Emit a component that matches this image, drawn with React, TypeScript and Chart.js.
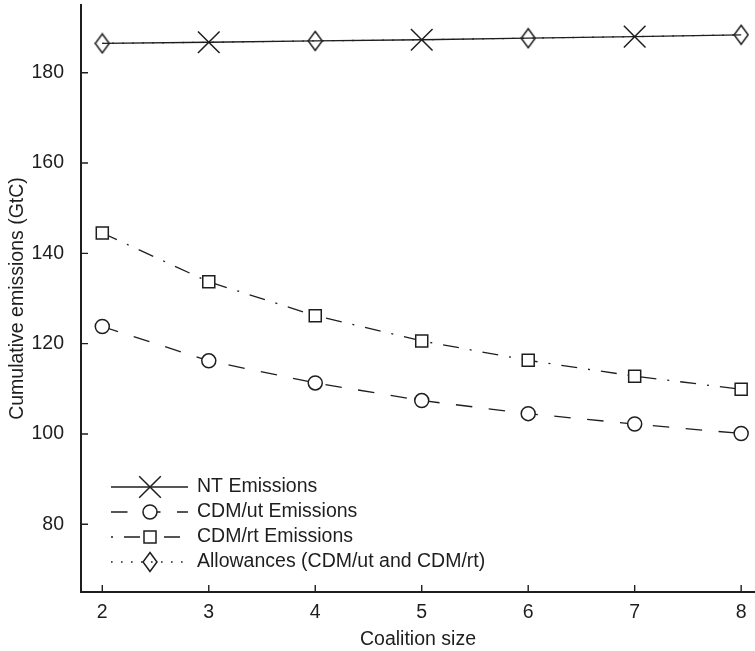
import React, { useEffect, useRef } from 'react';
import { Chart, registerables } from 'chart.js';

Chart.register(...registerables);

// ---- data ----
const coalitionSizes = [2, 3, 4, 5, 6, 7, 8];
const ntEmissions = [186.5, 186.75, 187.05, 187.3, 187.65, 188.0, 188.4];
const cdmUtEmissions = [123.8, 116.2, 111.3, 107.4, 104.5, 102.2, 100.1];
const cdmRtEmissions = [144.5, 133.7, 126.2, 120.6, 116.3, 112.8, 109.9];
const allowances = [186.5, 186.75, 187.05, 187.3, 187.65, 188.0, 188.4];
const xTickValues = [2, 3, 4, 5, 6, 7, 8];
const yTickValues = [80, 100, 120, 140, 160, 180];
const seriesNames = [
  'NT Emissions',
  'CDM/ut Emissions',
  'CDM/rt Emissions',
  'Allowances (CDM/ut and CDM/rt)',
];
const xTitle = 'Coalition size';
const yTitle = 'Cumulative emissions (GtC)';

// ---- styles ----
const INK = '#1e1e1e';
const FONT_FAMILY = '"Liberation Sans", Arial, Helvetica, sans-serif';
const FONT_SIZE = 19.5;

function makeDiamond(): HTMLCanvasElement {
  const c = document.createElement('canvas');
  c.width = 16;
  c.height = 22;
  const g = c.getContext('2d')!;
  g.strokeStyle = INK;
  g.lineWidth = 1.5;
  g.beginPath();
  g.moveTo(8, 1.5);
  g.lineTo(15, 11);
  g.lineTo(8, 20.5);
  g.lineTo(1, 11);
  g.closePath();
  g.stroke();
  return c;
}

function drawMarker(ctx: CanvasRenderingContext2D, kind: string, x: number, y: number, diamond: HTMLCanvasElement) {
  ctx.beginPath();
  ctx.fillStyle = '#ffffff';
  if (kind === 'x') {
    const h = 10.8;
    ctx.moveTo(x - h, y - h);
    ctx.lineTo(x + h, y + h);
    ctx.moveTo(x + h, y - h);
    ctx.lineTo(x - h, y + h);
    ctx.stroke();
  } else if (kind === 'circle') {
    ctx.arc(x, y, 7, 0, Math.PI * 2);
    ctx.fill();
    ctx.stroke();
  } else if (kind === 'square') {
    ctx.rect(x - 6, y - 6, 12, 12);
    ctx.fill();
    ctx.stroke();
  } else if (kind === 'diamond') {
    ctx.drawImage(diamond, x - diamond.width / 2, y - diamond.height / 2);
  }
}

export default function App() {
  const canvasRef = useRef<HTMLCanvasElement | null>(null);

  useEffect(() => {
    document.body.style.margin = '0';
    const canvas = canvasRef.current;
    if (!canvas) return;
    const diamond = makeDiamond();
    const pts = (ys: number[]) => coalitionSizes.map((x, i) => ({ x, y: ys[i] }));

    const legendKinds = ['x', 'circle', 'square', 'diamond'];
    const legendDashes: number[][] = [[], [16.5, 16.5], [2, 11, 16, 11], [1.6, 8.4]];

    const legendPlugin = {
      id: 'matlabLegend',
      afterDraw(chart: any) {
        const { ctx, chartArea } = chart;
        const x0 = chartArea.left + 30;
        const x1 = chartArea.left + 107;
        const xm = chartArea.left + 69;
        const xt = chartArea.left + 116;
        const rowGap = 25;
        const yLast = chartArea.bottom - 30;
        const n = seriesNames.length;
        seriesNames.forEach((name, i) => {
          const y = yLast - (n - 1 - i) * rowGap;
          ctx.save();
          ctx.strokeStyle = INK;
          ctx.lineWidth = 1.3;
          ctx.setLineDash(legendDashes[i]);
          ctx.beginPath();
          ctx.moveTo(x0, y);
          ctx.lineTo(x1, y);
          ctx.stroke();
          ctx.setLineDash([]);
          ctx.lineWidth = 1.5;
          drawMarker(ctx, legendKinds[i], xm, y, diamond);
          ctx.fillStyle = INK;
          ctx.font = `${FONT_SIZE}px ${FONT_FAMILY}`;
          ctx.textBaseline = 'middle';
          ctx.textAlign = 'left';
          ctx.fillText(name, xt, y);
          ctx.restore();
        });
      },
    };

    const inwardTicks = {
      id: 'inwardTicks',
      afterDraw(chart: any) {
        const { ctx, chartArea, scales } = chart;
        ctx.save();
        ctx.strokeStyle = INK;
        ctx.lineWidth = 1.4;
        ctx.beginPath();
        xTickValues.forEach((v) => {
          const px = scales.x.getPixelForValue(v);
          ctx.moveTo(px, chartArea.bottom);
          ctx.lineTo(px, chartArea.bottom - 7);
        });
        yTickValues.forEach((v) => {
          const py = scales.y.getPixelForValue(v);
          ctx.moveTo(chartArea.left, py);
          ctx.lineTo(chartArea.left + 7, py);
        });
        ctx.stroke();
        ctx.restore();
      },
    };

    const common = {
      borderColor: INK,
      borderWidth: 1.3,
      pointBorderColor: INK,
      pointBackgroundColor: '#ffffff',
      pointBorderWidth: 1.5,
      pointHoverRadius: 0,
      tension: 0,
      fill: false,
      clip: false,
    };

    const chart = new Chart(canvas, {
      type: 'line',
      data: {
        datasets: [
          {
            ...common,
            label: seriesNames[0],
            data: pts(ntEmissions),
            pointStyle: 'crossRot',
            pointRadius: (c: any) => (c.dataIndex % 2 === 1 ? 15.3 : 0),
          },
          {
            ...common,
            label: seriesNames[1],
            data: pts(cdmUtEmissions),
            borderDash: [16.5, 16.5],
            pointStyle: 'circle',
            pointRadius: 7,
          },
          {
            ...common,
            label: seriesNames[2],
            data: pts(cdmRtEmissions),
            borderDash: [16, 11, 2, 11],
            pointStyle: 'rect',
            pointRadius: 8.5,
          },
          {
            ...common,
            label: seriesNames[3],
            data: pts(allowances),
            borderDash: [1.6, 8.4],
            pointStyle: diamond,
            pointRadius: (c: any) => (c.dataIndex % 2 === 0 ? 10 : 0),
          },
        ] as any,
      },
      options: {
        animation: false,
        responsive: false,
        maintainAspectRatio: false,
        layout: { autoPadding: false, padding: { top: 5, right: 0, bottom: 0, left: 0 } },
        plugins: {
          legend: { display: false },
          tooltip: { enabled: false },
        },
        scales: {
          x: {
            type: 'linear',
            position: 'bottom',
            min: 1.8,
            max: 8.13,
            afterBuildTicks: (s: any) => {
              s.ticks = xTickValues.map((v) => ({ value: v }));
            },
            afterFit: (s: any) => {
              s.height = 59;
              s.paddingLeft = 0;
              s.paddingRight = 0;
            },
            grid: { display: false },
            border: { display: true, color: INK, width: 2 },
            ticks: {
              color: INK,
              font: { family: FONT_FAMILY, size: FONT_SIZE },
              padding: 1,
              maxRotation: 0,
              autoSkip: false,
              callback: (v: any) => String(v),
            },
            title: {
              display: true,
              text: xTitle,
              color: INK,
              font: { family: FONT_FAMILY, size: FONT_SIZE },
              padding: { top: 0, bottom: 0 },
            },
          },
          y: {
            type: 'linear',
            position: 'left',
            min: 65,
            max: 195,
            afterBuildTicks: (s: any) => {
              s.ticks = yTickValues.map((v) => ({ value: v }));
            },
            afterFit: (s: any) => {
              s.width = 81;
              s.paddingTop = 0;
              s.paddingBottom = 0;
            },
            grid: { display: false },
            border: { display: true, color: INK, width: 2 },
            ticks: {
              color: INK,
              font: { family: FONT_FAMILY, size: FONT_SIZE },
              padding: 9,
              autoSkip: false,
              callback: (v: any) => String(v),
            },
            title: {
              display: true,
              text: yTitle,
              color: INK,
              font: { family: FONT_FAMILY, size: FONT_SIZE },
              padding: { top: 5.5, bottom: 0 },
            },
          },
        },
      } as any,
      plugins: [inwardTicks, legendPlugin],
    });

    return () => chart.destroy();
  }, []);

  return (
    <div style={{ width: 755, height: 651, position: 'relative' }}>
      <canvas ref={canvasRef} width={755} height={651} style={{ display: 'block' }} />
    </div>
  );
}
